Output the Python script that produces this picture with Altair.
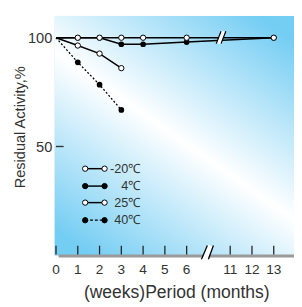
import altair as alt
import pandas as pd

# ---------------- data ----------------
series_names = ["-20℃", "4℃", "25℃", "40℃"]
x_m20 = [0, 1, 2, 3, 4, 6, 10]
y_m20 = [100, 100, 100, 100, 100, 100, 100]
x_4 = [0, 1, 2, 3, 4, 6, 10]
y_4 = [100, 100, 100, 97, 97, 98, 100]
x_25 = [0, 1, 2, 3]
y_25 = [100, 96.4, 92.7, 86]
x_40 = [0, 1, 2, 3]
y_40 = [100, 88.7, 78.4, 66.8]

tick_pos = [0, 1, 2, 3, 4, 5, 6, 8, 9, 10]
tick_labels = ["0", "1", "2", "3", "4", "5", "6", "11", "12", "13"]
y_ticks = [50, 100]

FONT = "Liberation Sans"
TXT = "#333333"
BLUE = "#74cdf3"

rows = []
for name, xs, ys in [(series_names[0], x_m20, y_m20), (series_names[1], x_4, y_4),
                     (series_names[2], x_25, y_25), (series_names[3], x_40, y_40)]:
    for a, b in zip(xs, ys):
        rows.append({"series": name, "x": a, "y": b})
df = pd.DataFrame(rows)

xscale = alt.Scale(domain=[-0.06, 10.93], nice=False, zero=False)
yscale = alt.Scale(domain=[0, 110], nice=False, zero=False)

xaxis = alt.Axis(values=tick_pos, labels=False, title="(weeks)Period (months)")
yaxis = alt.Axis(values=y_ticks, title="Residual Activity,%")

one = pd.DataFrame({"a": [0]})
grad = alt.LinearGradient(gradient="linear",
                          stops=[alt.GradientStop(color=BLUE, offset=0),
                                 alt.GradientStop(color="#ffffff", offset=0.5),
                                 alt.GradientStop(color=BLUE, offset=1)],
                          x1=0.15, y1=1, x2=0.85, y2=0)
bg = alt.Chart(one).mark_rect(color=grad).encode(
    x=alt.value(0), x2=alt.value("width"), y=alt.value(0), y2=alt.value("height"))

# axis frame (drawn with scales)
axis_line = alt.Chart(pd.DataFrame({"x": [0.12], "x2": [10.93], "y": [-0.3]})).mark_rule(
    color="#9a9a9a", strokeWidth=3).encode(
    x=alt.X("x:Q", scale=xscale, axis=xaxis), x2="x2:Q",
    y=alt.Y("y:Q", scale=yscale, axis=yaxis))
tick_df = pd.DataFrame({"x": tick_pos, "label": tick_labels})
xticks = alt.Chart(tick_df).mark_rule(color="#222222", strokeWidth=1.3).encode(
    x="x:Q", y=alt.datum(0.4), y2=alt.datum(4.4))
xlabels = alt.Chart(tick_df).mark_text(align="center", baseline="alphabetic", font=FONT,
                                       fontSize=14, color=TXT).encode(
    x="x:Q", y=alt.datum(-8.5), text="label:N")
yticks = alt.Chart(pd.DataFrame({"y": y_ticks})).mark_rule(color="#333333", strokeWidth=1.4).encode(
    y="y:Q", x=alt.datum(0.0), x2=alt.datum(0.35))

# break marks
brk_ax = pd.DataFrame({"x": [6.68, 7.0], "x2": [6.95, 7.23], "y": [-1.8, -1.8], "y2": [4.47, 4.47]})
brk_ax_w = pd.DataFrame({"x": [6.84], "x2": [7.09], "y": [-1.8], "y2": [4.47]})
brk_ln = pd.DataFrame({"x": [7.36, 7.58], "x2": [7.58, 7.80], "y": [97.3, 97.3], "y2": [103.0, 103.0]})
brk_ln_w = pd.DataFrame({"x": [7.47], "x2": [7.69], "y": [97.3], "y2": [103.0]})


def seg(d, color, w):
    return alt.Chart(d).mark_rule(color=color, strokeWidth=w, strokeCap="butt").encode(
        x="x:Q", x2="x2:Q", y="y:Q", y2="y2:Q")


solid = alt.Chart(df).transform_filter(alt.datum.series != "40℃").mark_line(
    color="black", strokeWidth=1.5).encode(x="x:Q", y="y:Q", detail="series:N", order="x:Q")
dashed = alt.Chart(df).transform_filter(alt.datum.series == "40℃").mark_line(
    color="black", strokeWidth=1.3, strokeDash=[2, 2]).encode(x="x:Q", y="y:Q", order="x:Q")
filled = alt.Chart(df).transform_filter(
    "datum.x > 0 && (datum.series == '4℃' || datum.series == '40℃')").mark_point(
    shape="circle", filled=True, color="black", size=34, opacity=1).encode(x="x:Q", y="y:Q")
opened = alt.Chart(df).transform_filter(
    "datum.x > 0 && (datum.series == '-20℃' || datum.series == '25℃')").mark_point(
    shape="circle", filled=True, fill="white", stroke="black", strokeWidth=1, size=30,
    opacity=1).encode(x="x:Q", y="y:Q")

# legend
leg_y = [39.8, 31.8, 24.2, 16.1]
leg = pd.DataFrame({"label": series_names, "y": leg_y, "xa": 1.34, "xb": 2.23, "xt": 3.92,
                    "fill": ["white", "black", "white", "black"]})
leg_solid = alt.Chart(leg).transform_filter(alt.datum.label != "40℃").mark_rule(
    color="black", strokeWidth=1.5).encode(x="xa:Q", x2="xb:Q", y="y:Q")
leg_dash = alt.Chart(leg).transform_filter(alt.datum.label == "40℃").mark_rule(
    color="black", strokeWidth=1.3, strokeDash=[3, 2]).encode(x="xa:Q", x2="xb:Q", y="y:Q")
leg_pa = alt.Chart(leg).mark_point(shape="circle", filled=True, stroke="black", strokeWidth=1,
                                    size=30, opacity=1).encode(
    x="xa:Q", y="y:Q", fill=alt.Fill("fill:N", scale=None))
leg_pb = alt.Chart(leg).mark_point(shape="circle", filled=True, stroke="black", strokeWidth=1,
                                    size=30, opacity=1).encode(
    x="xb:Q", y="y:Q", fill=alt.Fill("fill:N", scale=None))
leg_t = alt.Chart(leg).mark_text(align="right", baseline="middle", font=FONT, fontSize=13,
                                  color=TXT).encode(x="xt:Q", y="y:Q", text="label:N")

chart = alt.layer(
    bg, axis_line, xticks, xlabels, yticks,
    seg(brk_ax_w, "white", 5), seg(brk_ax, "black", 1.3),
    solid, dashed, filled, opened,
    seg(brk_ln_w, "white", 4), seg(brk_ln, "black", 1.2),
    leg_solid, leg_dash, leg_pa, leg_pb, leg_t,
).properties(
    width=246, height=246,
    padding={"left": 48, "top": 4, "right": 0, "bottom": 49},
    autosize=alt.AutoSizeParams(type="none"),
).configure_view(stroke="transparent").configure(background="white").configure_axis(
    grid=False, ticks=False, domain=False, labelOverlap=False, labelFlush=False,
    labelFont=FONT, labelColor=TXT, titleFont=FONT, titleFontWeight="normal", titleColor=TXT,
).configure_axisX(
    titleFontSize=18, titleY=43, titleX=125, titleBaseline="alphabetic",
).configure_axisY(
    labelFontSize=15, labelPadding=3, titleFontSize=15, titleX=-36, titleY=114,
    titleBaseline="middle", titleAlign="center", titleAngle=270,
)

chart.save("out.html", embed_options={"renderer": "svg", "actions": False})
